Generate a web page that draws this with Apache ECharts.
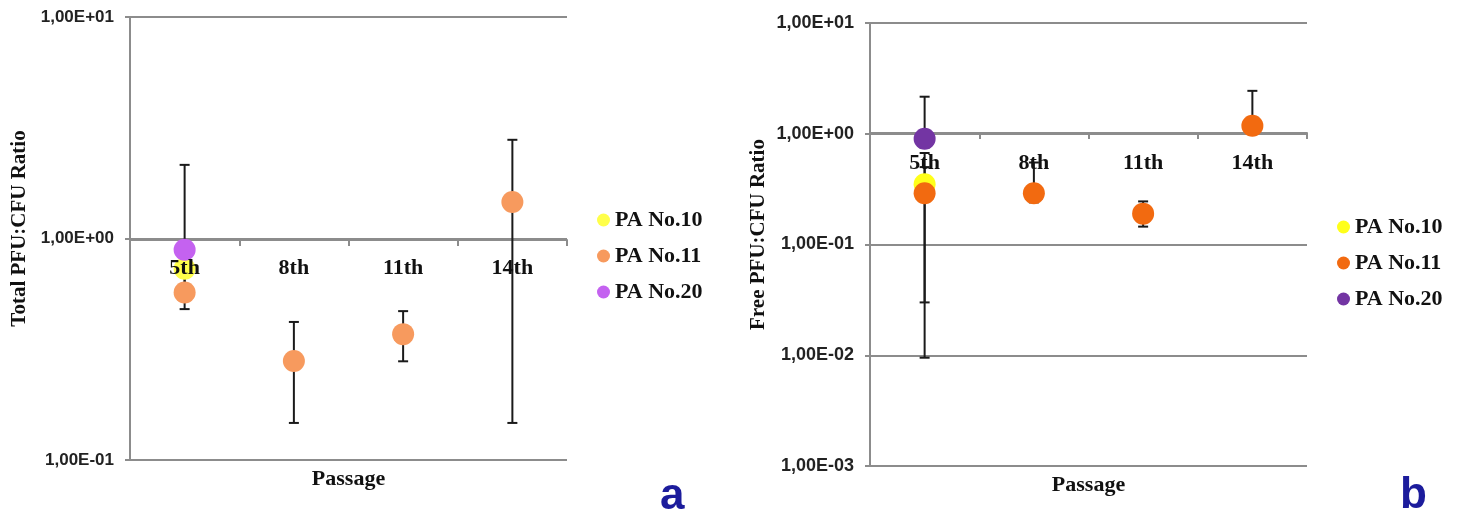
<!DOCTYPE html>
<html>
<head>
<meta charset="utf-8">
<script src="https://cdn.jsdelivr.net/npm/echarts@6/dist/echarts.min.js"></script>
<style>
html,body{margin:0;padding:0;background:#fff;}
#chart{width:1460px;height:516px;}
</style>
</head>
<body>
<div id="chart"></div>
<script>
// ---- data ----
const categories = ['5th', '8th', '11th', '14th'];
const seriesNames = ['PA No.10', 'PA No.11', 'PA No.20'];

// Panel a: Total PFU:CFU ratio
const totalPA10 = [0.73, null, null, null];
const totalPA11 = [0.57, 0.28, 0.37, 1.46];
const totalPA20 = [0.89, null, null, null];
const totalPA10Low = [null, null, null, null];
const totalPA10High = [null, null, null, null];
const totalPA11Low = [0.48, 0.147, 0.279, 0.147];
const totalPA11High = [0.67, 0.42, 0.47, 2.79];
const totalPA20Low = [0.6, null, null, null];
const totalPA20High = [2.15, null, null, null];

// Panel b: Free PFU:CFU ratio
const freePA10 = [0.35, null, null, null];
const freePA11 = [0.29, 0.29, 0.19, 1.18];
const freePA20 = [0.90, null, null, null];
const freePA10Low = [0.0095, null, null, null];
const freePA10High = [0.67, null, null, null];
const freePA11Low = [0.030, 0.24, 0.145, 1.0];
const freePA11High = [0.5, 0.55, 0.245, 2.44];
const freePA20Low = [0.75, null, null, null];
const freePA20High = [2.16, null, null, null];

// ---- styling ----
const colorsA = ['#FFFF4A', '#F79A5E', '#C462F0'];
const colorsB = ['#FFFF1A', '#F26A10', '#7335A3'];
const gray = '#8c8c8c';
const serif = '"Liberation Serif", "Times New Roman", serif';
const sans = '"Liberation Sans", Arial, sans-serif';
const suffixB = ' (b)';

function sci(v) {
  const e = Math.round(Math.log10(v));
  return '1,00E' + (e < 0 ? '-' : '+') + String(Math.abs(e)).padStart(2, '0');
}

function pts(arr) {
  const out = [];
  arr.forEach((v, i) => { if (v != null) out.push([categories[i], v]); });
  return out;
}
function errs(lows, highs) {
  const out = [];
  lows.forEach((lo, i) => { if (lo != null && highs[i] != null) out.push([i, lo, highs[i]]); });
  return out;
}

function errorRender(params, api) {
  const x = api.value(0), lo = api.value(1), hi = api.value(2);
  const pHi = api.coord([x, hi]);
  const pLo = api.coord([x, lo]);
  const half = 5;
  const st = { stroke: '#1a1a1a', lineWidth: 2 };
  return {
    type: 'group',
    children: [
      { type: 'line', shape: { x1: pHi[0], y1: pHi[1], x2: pLo[0], y2: pLo[1] }, style: st },
      { type: 'line', shape: { x1: pHi[0] - half, y1: pHi[1], x2: pHi[0] + half, y2: pHi[1] }, style: st },
      { type: 'line', shape: { x1: pLo[0] - half, y1: pLo[1], x2: pLo[0] + half, y2: pLo[1] }, style: st }
    ]
  };
}

// axis carrying line + ticks + "Passage" name (below the marks)
function xAxisLine(gridIndex, offset, nameGap) {
  return {
    type: 'category', gridIndex: gridIndex, data: categories, position: 'bottom', offset: offset,
    boundaryGap: true, z: 0,
    axisLine: { show: true, lineStyle: { color: gray, width: 2 } },
    axisTick: { show: true, length: 6, alignWithLabel: false, lineStyle: { color: gray, width: 2 } },
    axisLabel: { show: false },
    splitLine: { show: false },
    name: 'Passage', nameLocation: 'middle', nameGap: nameGap,
    nameTextStyle: { fontFamily: serif, fontWeight: 'bold', fontSize: 22, color: '#111' }
  };
}
// same category axis, carrying only the labels (drawn above the marks)
function xAxisLabels(gridIndex, offset, margin) {
  return {
    type: 'category', gridIndex: gridIndex, data: categories, position: 'bottom', offset: offset,
    boundaryGap: true, z: 10,
    axisLine: { show: false }, axisTick: { show: false }, splitLine: { show: false },
    axisLabel: { fontFamily: serif, fontWeight: 'bold', fontSize: 22, color: '#111', margin: margin }
  };
}
function yAxisCfg(gridIndex, min, max, name, nameGap, fs) {
  return {
    type: 'log', logBase: 10, gridIndex: gridIndex, min: min, max: max,
    axisLine: { show: true, lineStyle: { color: gray, width: 2 } },
    axisTick: { show: true, length: 5, lineStyle: { color: gray, width: 2 } },
    axisLabel: { formatter: sci, fontFamily: sans, fontWeight: 'bold', fontSize: fs, color: '#222', margin: 16 },
    splitLine: { show: true, lineStyle: { color: gray, width: 2 } },
    minorTick: { show: false }, minorSplitLine: { show: false },
    name: name, nameLocation: 'middle', nameGap: nameGap, nameRotate: 90,
    nameTextStyle: { fontFamily: serif, fontWeight: 'bold', fontSize: 21, color: '#111', padding: [0, 0, 0, 20] }
  };
}

function scatter(name, data, color, xi, yi) {
  return {
    type: 'scatter', name: name, xAxisIndex: xi, yAxisIndex: yi, data: data,
    symbol: 'circle', symbolSize: 22, z: 3,
    itemStyle: { color: color, opacity: 1 }
  };
}

const legendText = { fontFamily: serif, fontWeight: 'bold', fontSize: 22, lineHeight: 21, color: '#111' };

const option = {
  animation: false,
  backgroundColor: '#ffffff',
  grid: [
    { left: 130, top: 17, width: 437, height: 443 },
    { left: 870, top: 23, width: 437, height: 443 }
  ],
  xAxis: [
    xAxisLine(0, -220, 228), xAxisLine(1, -333, 341),
    xAxisLabels(0, -220, 17), xAxisLabels(1, -333, 19)
  ],
  yAxis: [
    yAxisCfg(0, 0.1, 10, 'Total PFU:CFU Ratio', 100, 17),
    yAxisCfg(1, 0.001, 10, 'Free PFU:CFU Ratio', 101, 18)
  ],
  legend: [
    {
      orient: 'vertical', left: 592, top: 204, itemWidth: 13, itemHeight: 13, itemGap: 14,
      icon: 'circle', data: seriesNames, textStyle: legendText
    },
    {
      orient: 'vertical', left: 1332, top: 211, itemWidth: 13, itemHeight: 13, itemGap: 14,
      icon: 'circle', data: seriesNames.map(n => n + suffixB),
      formatter: n => n.replace(suffixB, ''), textStyle: legendText
    }
  ],
  graphic: [
    { type: 'text', left: 660, top: 475, style: { text: 'a', fontFamily: sans, fontWeight: 'bold', fontSize: 44, fill: '#1c1c9c' } },
    { type: 'text', left: 1400, top: 474, style: { text: 'b', fontFamily: sans, fontWeight: 'bold', fontSize: 44, fill: '#1c1c9c' } }
  ],
  series: [
    {
      type: 'custom', name: 'errA', xAxisIndex: 0, yAxisIndex: 0, z: 2,
      renderItem: errorRender, silent: true,
      data: [].concat(errs(totalPA10Low, totalPA10High), errs(totalPA11Low, totalPA11High), errs(totalPA20Low, totalPA20High))
    },
    {
      type: 'custom', name: 'errB', xAxisIndex: 1, yAxisIndex: 1, z: 2,
      renderItem: errorRender, silent: true,
      data: [].concat(errs(freePA10Low, freePA10High), errs(freePA11Low, freePA11High), errs(freePA20Low, freePA20High))
    },
    scatter(seriesNames[0], pts(totalPA10), colorsA[0], 0, 0),
    scatter(seriesNames[1], pts(totalPA11), colorsA[1], 0, 0),
    scatter(seriesNames[2], pts(totalPA20), colorsA[2], 0, 0),
    scatter(seriesNames[0] + suffixB, pts(freePA10), colorsB[0], 1, 1),
    scatter(seriesNames[1] + suffixB, pts(freePA11), colorsB[1], 1, 1),
    scatter(seriesNames[2] + suffixB, pts(freePA20), colorsB[2], 1, 1)
  ]
};

const chart = echarts.init(document.getElementById('chart'), null, { renderer: 'canvas' });
chart.setOption(option);
</script>
</body>
</html>
